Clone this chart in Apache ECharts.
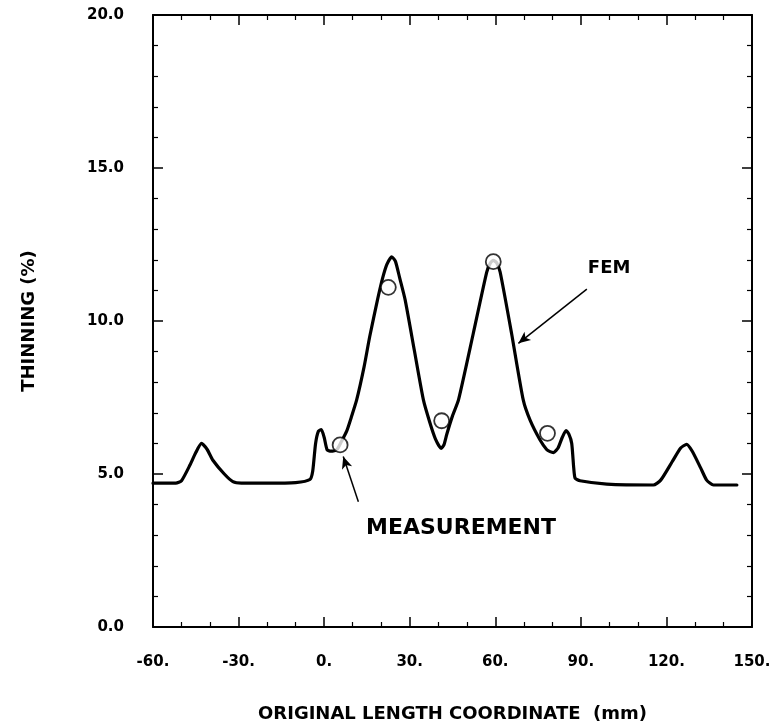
<!DOCTYPE html>
<html>
<head>
<meta charset="utf-8">
<script src="https://cdn.jsdelivr.net/npm/echarts@6/dist/echarts.min.js"></script>
<style>
  html, body { margin: 0; padding: 0; background: #fff; }
  #chart { width: 784px; height: 728px; }
</style>
</head>
<body>
<div id="chart"></div>
<script>
// FEM curve (x in mm, thinning in %)
const femX = [-60, -52, -50, -47, -45, -43, -41, -39, -35, -32, -29, -20, -10, -5, -4, -3, -2, -1, 0, 1, 2, 3, 4.5, 6, 7.9, 9.5, 11.4, 14, 16, 18.7, 20.5, 22, 23.7, 25, 26.5, 28.4, 31.6, 34.8, 37, 39, 41, 42, 43, 45, 47.1, 52.3, 57, 58.3, 59.3, 60.5, 61.7, 65.7, 69.8, 72.2, 75.7, 78, 79.2, 80.4, 82, 83.5, 84.8, 85.8, 86.8, 87.5, 88, 89.7, 99.1, 115.4, 118, 122, 125, 127.1, 129, 132, 134.1, 136.5, 144.7];
const femY = [4.70, 4.70, 4.78, 5.3, 5.7, 6.0, 5.8, 5.45, 5.0, 4.75, 4.70, 4.70, 4.72, 4.82, 5.1, 6.0, 6.4, 6.45, 6.2, 5.8, 5.75, 5.75, 5.8, 6.05, 6.4, 6.85, 7.42, 8.5, 9.5, 10.69, 11.4, 11.85, 12.1, 11.95, 11.4, 10.69, 9.05, 7.42, 6.7, 6.15, 5.84, 5.95, 6.3, 6.9, 7.42, 9.6, 11.6, 11.9, 11.98, 11.9, 11.6, 9.6, 7.42, 6.76, 6.11, 5.8, 5.73, 5.70, 5.85, 6.2, 6.42, 6.3, 6.0, 5.2, 4.86, 4.78, 4.67, 4.64, 4.8, 5.4, 5.85, 5.97, 5.75, 5.2, 4.80, 4.64, 4.64];

// Measurement points
const measX = [5.6, 22.5, 41.2, 59.3, 78.3];
const measY = [5.95, 11.1, 6.74, 11.94, 6.33];

// Axis tick settings
const xMin = -60, xMax = 150, xStep = 30;
const yMin = 0, yMax = 20, yStep = 5;

// Annotations (text anchor and arrow start/end in data coordinates)
const femNote = { text: 'FEM', tx: 99.9, ty: 11.73, from: [92.1, 11.04], to: [68.1, 9.27] };
const measNote = { text: 'MEASUREMENT', tx: 48, ty: 3.24, from: [12.0, 4.09], to: [6.7, 5.57] };

const femData = femX.map((x, i) => [x, femY[i]]);
const measData = measX.map((x, i) => [x, measY[i]]);

const FONT = 'DejaVu Sans';
const labelStyle = { color: '#000', fontFamily: FONT, fontWeight: 'bold', fontSize: 15 };
const lineStyle = { color: '#000', width: 2 };

function mainAxis(extra) {
  return Object.assign({
    type: 'value',
    axisLine: { show: true, onZero: false, lineStyle: lineStyle },
    axisTick: { show: true, inside: true, length: 10, lineStyle: { color: '#000', width: 1.5 } },
    splitLine: { show: false },
    minorSplitLine: { show: false }
  }, extra);
}

const chart = echarts.init(document.getElementById('chart'), null, { renderer: 'canvas' });

const option = {
  animation: false,
  backgroundColor: '#fff',
  grid: { left: 153, right: 32, top: 15, bottom: 101, containLabel: false },
  xAxis: [
    mainAxis({
      min: xMin, max: xMax, interval: xStep, position: 'bottom',
      minorTick: { show: true, splitNumber: 3, length: 5, lineStyle: { color: '#000', width: 1.2 } },
      axisLabel: Object.assign({ margin: 28, formatter: v => v + '.' }, labelStyle),
      name: 'ORIGINAL LENGTH COORDINATE  (mm)',
      nameLocation: 'middle', nameGap: 78,
      nameTextStyle: { color: '#000', fontFamily: FONT, fontWeight: 'bold', fontSize: 18 }
    }),
    mainAxis({
      min: xMin, max: xMax, interval: xStep, position: 'top',
      minorTick: { show: true, splitNumber: 3, length: 5, lineStyle: { color: '#000', width: 1.2 } },
      axisLabel: { show: false }
    })
  ],
  yAxis: [
    mainAxis({
      min: yMin, max: yMax, interval: yStep, position: 'left',
      minorTick: { show: true, splitNumber: 5, length: 5, lineStyle: { color: '#000', width: 1.2 } },
      axisLabel: Object.assign({ margin: 29, formatter: v => v.toFixed(1) }, labelStyle),
      name: 'THINNING (%)',
      nameLocation: 'middle', nameGap: 115, nameRotate: 90,
      nameTextStyle: { color: '#000', fontFamily: FONT, fontWeight: 'bold', fontSize: 18 }
    }),
    mainAxis({
      min: yMin, max: yMax, interval: yStep, position: 'right',
      minorTick: { show: true, splitNumber: 5, length: 5, lineStyle: { color: '#000', width: 1.2 } },
      axisLabel: { show: false }
    })
  ],
  series: [
    {
      name: 'FEM',
      type: 'line',
      data: femData,
      smooth: 0.2,
      showSymbol: false,
      lineStyle: { color: '#000', width: 3.2, join: 'round', cap: 'round' },
      z: 2,
      markLine: {
        silent: true,
        symbol: ['none', 'arrow'],
        symbolSize: [8, 12],
        label: { show: false },
        lineStyle: { color: '#000', width: 1.5, type: 'solid' },
        data: [
          [{ coord: femNote.from }, { coord: femNote.to }],
          [{ coord: measNote.from }, { coord: measNote.to }]
        ]
      },
      markPoint: {
        silent: true,
        symbol: 'circle',
        symbolSize: 0,
        data: [
          { coord: [femNote.tx, femNote.ty], label: { show: true, formatter: femNote.text, color: '#000', fontFamily: FONT, fontWeight: 'bold', fontSize: 18, position: 'inside' } },
          { coord: [measNote.tx, measNote.ty], label: { show: true, formatter: measNote.text, color: '#000', fontFamily: FONT, fontWeight: 'bold', fontSize: 22, position: 'inside' } }
        ]
      }
    },
    {
      name: 'MEASUREMENT',
      type: 'scatter',
      data: measData,
      symbol: 'circle',
      symbolSize: 15,
      itemStyle: { color: '#fff', borderColor: '#000', borderWidth: 1.8 },
      z: 3
    }
  ]
};

chart.setOption(option);
</script>
</body>
</html>
